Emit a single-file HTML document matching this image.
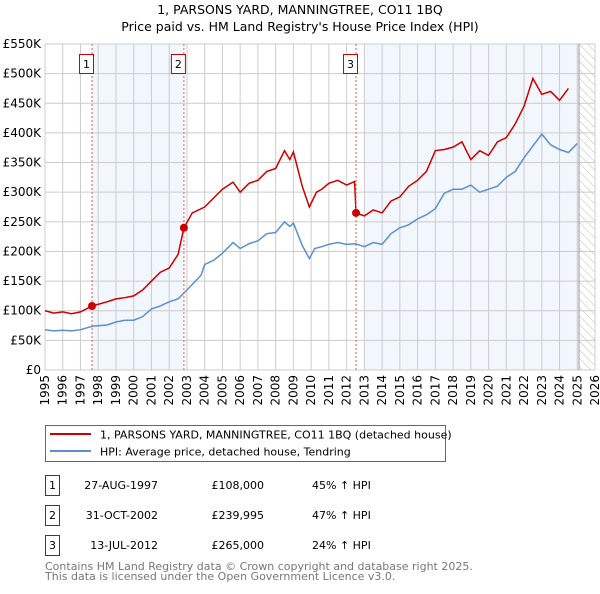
<!DOCTYPE html>
<html><head><meta charset="utf-8"><style>
body{margin:0;background:#fff;font-family:"DejaVu Sans","Liberation Sans",sans-serif;}
svg text{font-family:"DejaVu Sans","Liberation Sans",sans-serif;}
</style></head><body>
<svg id="chart" width="600" height="590" viewBox="0 0 600 590" xmlns="http://www.w3.org/2000/svg">
<defs><pattern id="hatch" width="6" height="6" patternUnits="userSpaceOnUse" patternTransform="rotate(-45)"><line x1="0" y1="0" x2="0" y2="6" stroke="#bbb" stroke-width="1"/></pattern></defs>
<text x="300" y="14" text-anchor="middle" font-size="12.5">1, PARSONS YARD, MANNINGTREE, CO11 1BQ</text>
<text x="300" y="31" text-anchor="middle" font-size="12.5">Price paid vs. HM Land Registry's House Price Index (HPI)</text>
<g id="bg"></g><g id="grid"></g><g id="axes"></g><g id="series"></g><g id="marks"></g>
<rect x="45.5" y="425.5" width="400" height="36" fill="#fff" stroke="#666"/>
<line x1="50" y1="434" x2="91" y2="434" stroke="#cc0000" stroke-width="2"/>
<text x="100" y="438.5" font-size="11">1, PARSONS YARD, MANNINGTREE, CO11 1BQ (detached house)</text>
<line x1="50" y1="451" x2="91" y2="451" stroke="#5b8fd1" stroke-width="2"/>
<text x="100" y="455.5" font-size="11">HPI: Average price, detached house, Tendring</text>
<g id="table" font-size="11"></g>
<text x="45" y="570" font-size="11" fill="#777">Contains HM Land Registry data © Crown copyright and database right 2025.</text>
<text x="45" y="580" font-size="11" fill="#777">This data is licensed under the Open Government Licence v3.0.</text>
</svg>
<script>
const yearTicks=[1995,1996,1997,1998,1999,2000,2001,2002,2003,2004,2005,2006,2007,2008,2009,2010,2011,2012,2013,2014,2015,2016,2017,2018,2019,2020,2021,2022,2023,2024,2025,2026];
const priceTicks=[0,50000,100000,150000,200000,250000,300000,350000,400000,450000,500000,550000];
const priceTickLabels=["£0","£50K","£100K","£150K","£200K","£250K","£300K","£350K","£400K","£450K","£500K","£550K"];
const hpiYears=[1995,1995.5,1996,1996.5,1997,1997.7,1998.5,1999,1999.5,2000,2000.5,2001,2001.5,2002,2002.5,2003,2003.8,2004,2004.5,2005,2005.6,2006,2006.5,2007,2007.5,2008,2008.5,2008.8,2009,2009.5,2009.9,2010.2,2010.6,2011,2011.5,2012,2012.5,2013,2013.5,2014,2014.5,2015,2015.5,2016,2016.5,2017,2017.5,2018,2018.5,2019,2019.5,2020,2020.5,2021,2021.5,2022,2022.5,2023,2023.5,2024,2024.5,2025];
const hpiValues=[68000,66000,67000,66000,68000,74000,76000,81000,84000,84000,90000,103000,108000,115000,120000,135000,160000,178000,185000,197000,215000,205000,213000,218000,230000,232000,250000,242000,248000,210000,188000,205000,208000,212000,215000,212000,213000,208000,215000,212000,230000,240000,245000,255000,262000,272000,298000,305000,305000,312000,300000,305000,310000,325000,335000,358000,378000,398000,380000,372000,367000,382000];
const priceYears=[1995,1995.5,1996,1996.5,1997,1997.65,1998.5,1999,1999.5,2000,2000.5,2001,2001.5,2002,2002.5,2002.83,2003.3,2004,2004.5,2005,2005.6,2006,2006.5,2007,2007.5,2008,2008.5,2008.8,2009,2009.5,2009.9,2010.3,2010.6,2011,2011.5,2012,2012.45,2012.53,2013,2013.5,2014,2014.5,2015,2015.5,2016,2016.5,2017,2017.5,2018,2018.5,2019,2019.5,2020,2020.5,2021,2021.5,2022,2022.5,2023,2023.5,2024,2024.5,2025];
const priceValues=[100000,96000,98000,95000,98000,108000,115000,120000,122000,125000,135000,150000,165000,172000,195000,239995,265000,275000,290000,305000,317000,300000,315000,320000,335000,340000,370000,355000,368000,310000,275000,300000,305000,315000,320000,312000,318000,265000,260000,270000,265000,285000,292000,310000,320000,335000,370000,372000,376000,385000,355000,370000,362000,385000,392000,415000,445000,492000,465000,470000,455000,475000];
const saleYears=[1997.65,2002.83,2012.53];
const salePrices=[108000,239995,265000];
const saleLabels=["1","2","3"];
const saleDates=["27-AUG-1997","31-OCT-2002","13-JUL-2012"];
const salePriceText=["£108,000","£239,995","£265,000"];
const saleHpiText=["45% ↑ HPI","47% ↑ HPI","24% ↑ HPI"];

const X0=45,X1=595,Y0=370,Y1=44;
const xS=y=>X0+(y-1995)/(2026-1995)*(X1-X0);
const yS=v=>Y0-v/550000*(Y0-Y1);
const NS="http://www.w3.org/2000/svg";
function mk(tag,attrs,parent){const e=document.createElementNS(NS,tag);for(const k in attrs)e.setAttribute(k,attrs[k]);parent.appendChild(e);return e;}
const bg=document.getElementById('bg'),grid=document.getElementById('grid'),axes=document.getElementById('axes'),series=document.getElementById('series'),marks=document.getElementById('marks'),table=document.getElementById('table');
let r=mk('rect',{x:X0,y:Y1,width:X1-X0,height:Y0-Y1,fill:'#fff'},bg);


r=mk('rect',{x:xS(saleYears[0]),y:Y1,width:xS(saleYears[1])-xS(saleYears[0]),height:Y0-Y1,fill:'#f2f6fd'},bg);


r=mk('rect',{x:xS(2013),y:Y1,width:xS(2025.1)-xS(2013),height:Y0-Y1,fill:'#f2f6fd'},bg);


r=mk('rect',{x:xS(2025.1),y:Y1,width:X1-xS(2025.1),height:Y0-Y1,fill:'url(#hatch)'},bg);


yearTicks.forEach(y=>{const x=xS(y);
 let l=mk('line',{x1:x,y1:Y1,x2:x,y2:Y0,stroke:'#ccc','stroke-width':1},grid);
 
 
 let t=mk('text',{x:x+4,y:Y0+5,'font-size':12,'text-anchor':'end',transform:`rotate(-90 ${x+4} ${Y0+5})`},axes);
 t.textContent=y;
 
 
});
priceTicks.forEach((v,i)=>{const y=yS(v);
 let l=mk('line',{x1:X0,y1:y,x2:X1,y2:y,stroke:'#ccc','stroke-width':1},grid);
 
 
 let t=mk('text',{x:X0-4,y:y+4,'font-size':12,'text-anchor':'end'},axes);
 t.textContent=priceTickLabels[i];
 
 
});
r=mk('line',{x1:xS(2025.1),y1:Y1,x2:xS(2025.1),y2:Y0,stroke:'#999','stroke-width':1},grid);


saleYears.forEach((y,i)=>{const x=xS(y);
 let l=mk('line',{x1:x,y1:Y1,x2:x,y2:Y0,stroke:'#e55','stroke-width':1,'stroke-dasharray':'2,2'},marks);
 
 
});
let p=mk('polyline',{points:hpiYears.map((y,i)=>xS(y)+','+yS(hpiValues[i])).join(' '),fill:'none',stroke:'#5b8fd1','stroke-width':1.5},series);


p=mk('polyline',{points:priceYears.map((y,i)=>xS(y)+','+yS(priceValues[i])).join(' '),fill:'none',stroke:'#cc0000','stroke-width':1.5},series);


saleYears.forEach((y,i)=>{const x=xS(y);
 let c=mk('circle',{cx:x,cy:yS(salePrices[i]),r:4,fill:'#cc0000'},marks);
 
 
 let b=mk('rect',{x:x-12.5,y:54.5,width:14,height:19,fill:'#fff',stroke:'#cc0000'},marks);
 
 
 let t=mk('text',{x:x-5.5,y:68,'font-size':11,'text-anchor':'middle'},marks);
 t.textContent=saleLabels[i];
 
 
 const ry=475+i*30;
 b=mk('rect',{x:45.5,y:ry+0.5,width:14,height:20,fill:'#fff',stroke:'#cc0000'},table);
 
 
 t=mk('text',{x:52.5,y:ry+14},table);t.setAttribute('text-anchor','middle');t.textContent=saleLabels[i];
 
 
 t=mk('text',{x:158,y:ry+14,'text-anchor':'end'},table);t.textContent=saleDates[i];
 
 
 t=mk('text',{x:264,y:ry+14,'text-anchor':'end'},table);t.textContent=salePriceText[i];
 
 
 t=mk('text',{x:312,y:ry+14},table);t.textContent=saleHpiText[i];
 
 
});
</script>
</body></html>
